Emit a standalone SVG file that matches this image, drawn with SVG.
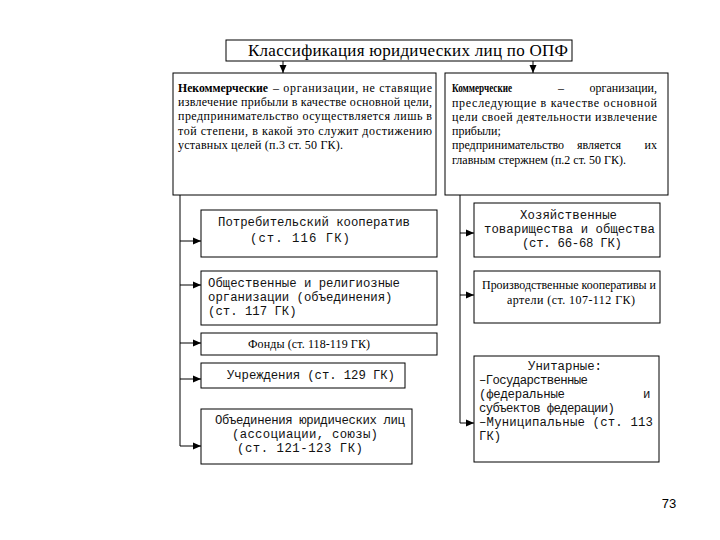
<svg xmlns="http://www.w3.org/2000/svg" width="720" height="540" viewBox="0 0 720 540">
<defs>
<marker id="ah" viewBox="0 0 8 8" refX="8" refY="4" markerWidth="8" markerHeight="8" markerUnits="userSpaceOnUse" orient="auto">
<path d="M0,0.5 L8,4 L0,7.5 Z" fill="#000"/>
</marker>
<style>
.box{fill:#fff;stroke:#000;stroke-width:1}
.ln{fill:none;stroke:#000;stroke-width:1}
.ar{fill:none;stroke:#000;stroke-width:1;marker-end:url(#ah)}
.s{font-family:"Liberation Serif","Times New Roman",serif;font-size:12px;fill:#000}
.b{font-weight:bold}
.m{font-family:"Liberation Mono","Courier New",monospace;font-size:12.3px;fill:#111}
.t{font-family:"Liberation Serif","Times New Roman",serif;font-size:17px;fill:#000}
.c{text-anchor:middle}
</style>
</defs>
<rect width="720" height="540" fill="#fff"/>

<g id="connectors">
<line class="ar" x1="283" y1="61" x2="283" y2="73"/>
<line class="ar" x1="533" y1="61" x2="533" y2="73"/>
<line class="ln" x1="180" y1="195" x2="180" y2="446"/>
<line class="ar" x1="180" y1="241" x2="201" y2="241"/>
<line class="ar" x1="180" y1="285" x2="201" y2="285"/>
<line class="ar" x1="180" y1="343" x2="201" y2="343"/>
<line class="ar" x1="180" y1="379" x2="201" y2="379"/>
<line class="ar" x1="180" y1="446" x2="201" y2="446"/>
<line class="ln" x1="460" y1="195" x2="460" y2="423"/>
<line class="ar" x1="460" y1="233" x2="474" y2="233"/>
<line class="ar" x1="460" y1="295" x2="474" y2="295"/>
<line class="ar" x1="460" y1="423" x2="474" y2="423"/>
</g>

<g id="title">
<rect class="box" x="226" y="40" width="346" height="21"/>
<text class="t" x="248" y="56" textLength="320" lengthAdjust="spacing" font-family="Liberation Serif, serif">Классификация юридических лиц по ОПФ</text>
</g>

<g id="noncommercial">
<rect class="box" x="173" y="73" width="263" height="122"/>
<text class="s b" x="178" y="92" textLength="90" lengthAdjust="spacingAndGlyphs">Некоммерческие</text>
<text class="s" x="273" y="92" textLength="159" lengthAdjust="spacing">– организации, не ставящие</text>
<text class="s" x="178" y="106" textLength="254" lengthAdjust="spacing">извлечение прибыли в качестве основной цели,</text>
<text class="s" x="178" y="120" textLength="254" lengthAdjust="spacing">предпринимательство осуществляется лишь в</text>
<text class="s" x="178" y="135" textLength="254" lengthAdjust="spacing">той степени, в какой это служит достижению</text>
<text class="s" x="178" y="149" textLength="165" lengthAdjust="spacing">уставных целей (п.3 ст. 50 ГК).</text>
</g>

<g id="commercial">
<rect class="box" x="445" y="73" width="223" height="122"/>
<text class="s b" x="452" y="92" textLength="60" lengthAdjust="spacingAndGlyphs" font-size="11">Коммерческие</text>
<text class="s" x="558" y="92">–</text>
<text class="s" x="657" y="92" text-anchor="end">организации,</text>
<text class="s" x="452" y="107" textLength="205" lengthAdjust="spacing">преследующие в качестве основной</text>
<text class="s" x="452" y="121" textLength="205" lengthAdjust="spacing">цели своей деятельности извлечение</text>
<text class="s" x="452" y="135">прибыли;</text>
<text class="s" x="452" y="149">предпринимательство</text>
<text class="s" x="577" y="149">является</text>
<text class="s" x="657" y="149" text-anchor="end">их</text>
<text class="s" x="452" y="164" textLength="174" lengthAdjust="spacing">главным стержнем (п.2 ст. 50 ГК).</text>
</g>

<g id="consumer-coop">
<rect class="box" x="201" y="210" width="236" height="47"/>
<text class="m" x="218" y="226" textLength="192" lengthAdjust="spacing">Потребительский кооператив</text>
<text class="m" x="250" y="242" textLength="100" lengthAdjust="spacing">(ст. 116 ГК)</text>
</g>

<g id="public-religious">
<rect class="box" x="201" y="271" width="236" height="54"/>
<text class="m" x="208" y="287">Общественные и религиозные</text>
<text class="m" x="208" y="301">организации (объединения)</text>
<text class="m" x="208" y="315">(ст. 117 ГК)</text>
</g>

<g id="funds">
<rect class="box" x="201" y="333" width="236" height="22"/>
<text class="s" x="248" y="348" textLength="122" lengthAdjust="spacing">Фонды (ст. 118-119 ГК)</text>
</g>

<g id="institutions">
<rect class="box" x="201" y="363" width="204" height="25"/>
<text class="m" x="227" y="379" textLength="168" lengthAdjust="spacing">Учреждения  (ст. 129 ГК)</text>
</g>

<g id="associations">
<rect class="box" x="201" y="409" width="211" height="55"/>
<text class="m" x="215" y="424" textLength="190" lengthAdjust="spacing">Объединения юридических лиц</text>
<text class="m" x="232" y="438" textLength="146" lengthAdjust="spacing">(ассоциации, союзы)</text>
<text class="m" x="237" y="452" textLength="126" lengthAdjust="spacing">(ст. 121-123 ГК)</text>
</g>

<g id="business-partnerships">
<rect class="box" x="474" y="203" width="186" height="54"/>
<text class="m" x="520" y="219" textLength="97" lengthAdjust="spacing">Хозяйственные</text>
<text class="m" x="484" y="233" textLength="171" lengthAdjust="spacing">товарищества и общества</text>
<text class="m" x="522" y="247" textLength="100" lengthAdjust="spacing">(ст. 66-68 ГК)</text>
</g>

<g id="production-coop">
<rect class="box" x="474" y="271" width="186" height="52"/>
<text class="s" x="482" y="289" textLength="174" lengthAdjust="spacingAndGlyphs">Производственные кооперативы и</text>
<text class="s" x="507" y="304" textLength="128" lengthAdjust="spacing">артели (ст. 107-112 ГК)</text>
</g>

<g id="unitary">
<rect class="box" x="474" y="356" width="185" height="106"/>
<text class="m" x="528" y="370" textLength="74" lengthAdjust="spacing">Унитарные:</text>
<text class="m" x="479" y="384" textLength="109" lengthAdjust="spacing">–Государственные</text>
<text class="m" x="479" y="398" textLength="86" lengthAdjust="spacing">(федеральные</text>
<text class="m" x="643" y="398">и</text>
<text class="m" x="479" y="412" textLength="136" lengthAdjust="spacing">субъектов федерации)</text>
<text class="m" x="479" y="426" textLength="174" lengthAdjust="spacing">–Муниципальные (ст. 113</text>
<text class="m" x="479" y="440">ГК)</text>
</g>

<text x="669" y="508" text-anchor="middle" font-family="'Liberation Sans',Arial,sans-serif" font-size="13" fill="#000">73</text>
</svg>
